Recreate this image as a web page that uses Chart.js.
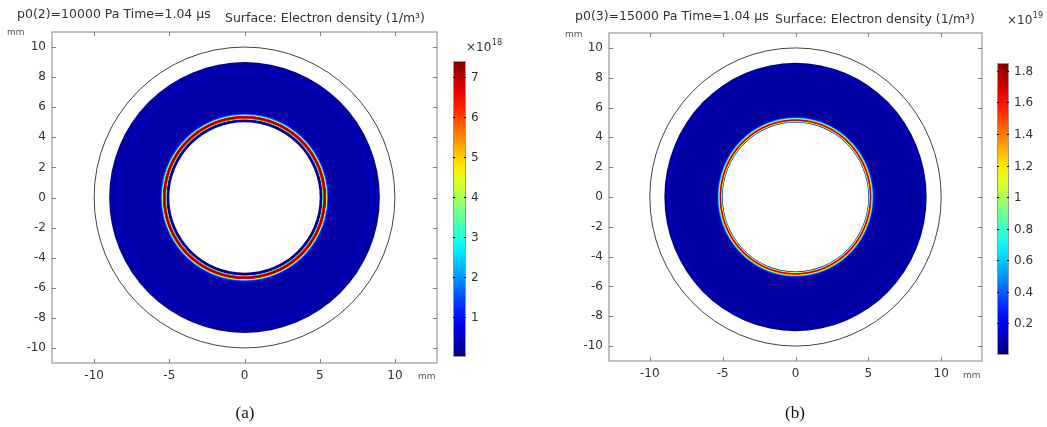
<!DOCTYPE html>
<html>
<head>
<meta charset="utf-8">
<script src="https://cdn.jsdelivr.net/npm/chart.js@4.4.1/dist/chart.umd.min.js"></script>
<style>
  html, body { margin: 0; padding: 0; background: #fff; }
  #wrap { position: relative; width: 1047px; height: 427px; overflow: hidden; }
  #wrap canvas { position: absolute; top: 0; }
</style>
</head>
<body>
<div id="wrap">
  <canvas id="chartA" width="523" height="427" style="left:0px"></canvas>
  <canvas id="chartB" width="524" height="427" style="left:523px"></canvas>
</div>
<script>
// axes (mm)
const xTicks = [-10, -5, 0, 5, 10];
const yTicks = [-10, -8, -6, -4, -2, 0, 2, 4, 6, 8, 10];
const xRange = [-12.8, 12.8];
const yRange = [-11, 11];
const boundaryRadius = 10;

// (a) p0 = 10000 Pa, radial electron density profile, units of 1e18 1/m^3
const radiiA   = [5.00, 5.12, 5.16, 5.20, 5.24, 5.29, 5.35, 5.41, 5.45, 5.49, 5.53, 5.59, 5.67, 5.80, 8.30, 8.40, 8.50, 8.95, 9.00];
const densityA = [0.00, 0.05, 1.00, 3.50, 6.00, 7.20, 7.30, 6.60, 4.80, 3.00, 1.60, 0.80, 0.45, 0.28, 0.28, 0.60, 0.28, 0.28, 0.10];
const barTicksA = [1, 2, 3, 4, 5, 6, 7];
const barMaxA = 7.4;

// (b) p0 = 15000 Pa, units of 1e19 1/m^3
const radiiB   = [5.00, 5.03, 5.07, 5.11, 5.15, 5.19, 5.23, 5.27, 5.31, 5.35, 5.40, 5.50, 8.60, 8.72, 8.84, 8.95, 9.00];
const densityB = [0.00, 0.50, 1.10, 1.55, 1.80, 1.60, 1.25, 0.85, 0.50, 0.28, 0.14, 0.06, 0.06, 0.13, 0.06, 0.02, 0.00];
const barTicksB = [0.2, 0.4, 0.6, 0.8, 1, 1.2, 1.4, 1.6, 1.8];
const barMaxB = 1.85;

const surfaceTitle = 'Surface: Electron density (1/m\u00b3)';

// jet / rainbow colormap
function jet(t) {
    t = Math.max(0, Math.min(1, t));
    const c = v => Math.round(255 * Math.max(0, Math.min(1, 1.5 - Math.abs(4 * t - v))));
    return 'rgb(' + c(3) + ',' + c(2) + ',' + c(1) + ')';
}

// draws the annulus from the radial profile, plus the outer boundary circle
function fieldPlugin(radii, values, max) {
    return {
        id: 'field',
        beforeDatasetsDraw(chart) {
            const { ctx, chartArea: a, scales: { x, y } } = chart;
            const cx = x.getPixelForValue(0), cy = y.getPixelForValue(0);
            const kx = x.getPixelForValue(1) - cx, ky = cy - y.getPixelForValue(1);
            const rIn = radii[0], rOut = radii[radii.length - 1];
            ctx.save();
            ctx.beginPath();
            ctx.rect(a.left, a.top, a.width, a.height);
            ctx.clip();

            ctx.save();
            ctx.translate(cx, cy);
            ctx.scale(kx, ky);
            const g = ctx.createRadialGradient(0, 0, 0, 0, 0, rOut);
            radii.forEach((r, i) => g.addColorStop(r / rOut, jet(values[i] / max)));
            ctx.fillStyle = g;
            ctx.beginPath();
            ctx.arc(0, 0, rOut, 0, 2 * Math.PI);
            ctx.arc(0, 0, rIn, 0, 2 * Math.PI, true);
            ctx.fill();
            ctx.beginPath();
            ctx.arc(0, 0, boundaryRadius, 0, 2 * Math.PI);
            ctx.restore();

            ctx.strokeStyle = '#111';
            ctx.lineWidth = 0.8;
            ctx.stroke();
            ctx.restore();
        }
    };
}

// grey frame with inward tick marks on all four sides
const framePlugin = {
    id: 'frame',
    afterDraw(chart) {
        const { ctx, chartArea: a, scales: { x, y } } = chart;
        ctx.save();
        ctx.strokeStyle = '#a0a0a0';
        ctx.lineWidth = 1.3;
        ctx.strokeRect(a.left, a.top, a.width, a.height);
        ctx.strokeStyle = '#808080';
        ctx.lineWidth = 1;
        ctx.beginPath();
        x.ticks.forEach(t => {
            const px = Math.round(x.getPixelForValue(t.value)) + 0.5;
            ctx.moveTo(px, a.bottom); ctx.lineTo(px, a.bottom - 4);
            ctx.moveTo(px, a.top); ctx.lineTo(px, a.top + 4);
        });
        y.ticks.forEach(t => {
            const py = Math.round(y.getPixelForValue(t.value)) + 0.5;
            ctx.moveTo(a.left, py); ctx.lineTo(a.left + 4, py);
            ctx.moveTo(a.right, py); ctx.lineTo(a.right - 4, py);
        });
        ctx.stroke();
        ctx.restore();
    }
};

// colour legend and the free texts of one panel
function legendPlugin(p) {
    return {
        id: 'legendBar',
        afterDraw(chart) {
            const ctx = chart.ctx;
            const b = p.bar;
            const toPx = v => b.bottom - (v / p.max) * (b.bottom - b.top);
            ctx.save();
            const g = ctx.createLinearGradient(0, b.bottom, 0, b.top);
            for (let i = 0; i <= 20; i++) g.addColorStop(i / 20, jet(i / 20));
            ctx.fillStyle = g;
            ctx.fillRect(b.left, b.top, b.right - b.left, b.bottom - b.top);
            ctx.strokeStyle = '#999';
            ctx.lineWidth = 1;
            ctx.strokeRect(b.left + 0.5, b.top + 0.5, b.right - b.left - 1, b.bottom - b.top - 1);

            ctx.fillStyle = '#333';
            ctx.strokeStyle = '#000';
            ctx.font = '12px "DejaVu Sans"';
            ctx.textBaseline = 'middle';
            ctx.textAlign = 'left';
            ctx.beginPath();
            p.ticks.forEach(v => {
                const py = Math.round(toPx(v)) + 0.5;
                ctx.moveTo(b.left, py); ctx.lineTo(b.left + 2, py);
                ctx.moveTo(b.right, py); ctx.lineTo(b.right - 2, py);
                ctx.fillText(String(v), b.right + 5, py);
            });
            ctx.stroke();

            // exponent
            ctx.font = '12px "DejaVu Sans"';
            ctx.fillText('\u00d710', p.exp.x, p.exp.y);
            const w = ctx.measureText('\u00d710').width;
            ctx.font = '8px "DejaVu Sans"';
            ctx.fillText(p.expText, p.exp.x + w + 0.5, p.exp.y - 5);

            // titles
            ctx.font = '12.5px "DejaVu Sans"';
            ctx.fillStyle = '#333';
            ctx.fillText(p.title, p.titlePos.x, p.titlePos.y);
            ctx.fillText(surfaceTitle, p.surfPos.x, p.surfPos.y);

            // units
            ctx.font = '9px "DejaVu Sans"';
            ctx.fillStyle = '#555';
            ctx.fillText('mm', p.mmTop.x, p.mmTop.y);
            ctx.fillText('mm', p.mmBottom.x, p.mmBottom.y);

            // caption
            ctx.font = '17px "Liberation Serif"';
            ctx.fillStyle = '#111';
            ctx.textAlign = 'center';
            ctx.fillText(p.caption, p.captionPos.x, p.captionPos.y);
            ctx.restore();
        }
    };
}

function makePanel(id, p) {
    const tickFont = { family: 'DejaVu Sans', size: 12 };
    return new Chart(document.getElementById(id), {
        type: 'scatter',
        data: { datasets: [] },
        options: {
            responsive: false,
            animation: false,
            events: [],
            layout: { padding: { left: 0, top: p.area.top, right: p.area.right, bottom: 0 } },
            plugins: { legend: { display: false }, tooltip: { enabled: false } },
            scales: {
                x: {
                    type: 'linear',
                    min: xRange[0], max: xRange[1],
                    afterBuildTicks: s => { s.ticks = xTicks.map(v => ({ value: v })); },
                    afterFit: s => { s.height = p.area.xHeight; },
                    grid: { display: false, drawTicks: false },
                    border: { display: false },
                    ticks: { color: '#333', font: tickFont, padding: 6, maxRotation: 0 }
                },
                y: {
                    type: 'linear',
                    min: yRange[0], max: yRange[1],
                    afterBuildTicks: s => { s.ticks = yTicks.map(v => ({ value: v })); },
                    afterFit: s => { s.width = p.area.yWidth; },
                    grid: { display: false, drawTicks: false },
                    border: { display: false },
                    ticks: { color: '#333', font: tickFont, padding: 6 }
                }
            }
        },
        plugins: [fieldPlugin(p.radii, p.values, p.max), framePlugin, legendPlugin(p)]
    });
}

makePanel('chartA', {
    radii: radiiA, values: densityA, max: barMaxA, ticks: barTicksA, expText: '18',
    area: { top: 32, right: 86, xHeight: 64, yWidth: 52 },
    bar: { left: 453, right: 466, top: 61, bottom: 357 },
    exp: { x: 466, y: 48 },
    title: 'p0(2)=10000 Pa Time=1.04 \u00b5s', titlePos: { x: 17, y: 15 },
    surfPos: { x: 225, y: 19 },
    mmTop: { x: 7, y: 33 }, mmBottom: { x: 418, y: 377 },
    caption: '(a)', captionPos: { x: 245, y: 414 }
});

makePanel('chartB', {
    radii: radiiB, values: densityB, max: barMaxB, ticks: barTicksB, expText: '19',
    area: { top: 33, right: 65, xHeight: 66, yWidth: 86 },
    bar: { left: 474, right: 486, top: 63, bottom: 355 },
    exp: { x: 484, y: 21 },
    title: 'p0(3)=15000 Pa Time=1.04 \u00b5s', titlePos: { x: 52, y: 17 },
    surfPos: { x: 252, y: 20 },
    mmTop: { x: 42, y: 35 }, mmBottom: { x: 440, y: 376 },
    caption: '(b)', captionPos: { x: 272, y: 414 }
});
</script>
</body>
</html>
